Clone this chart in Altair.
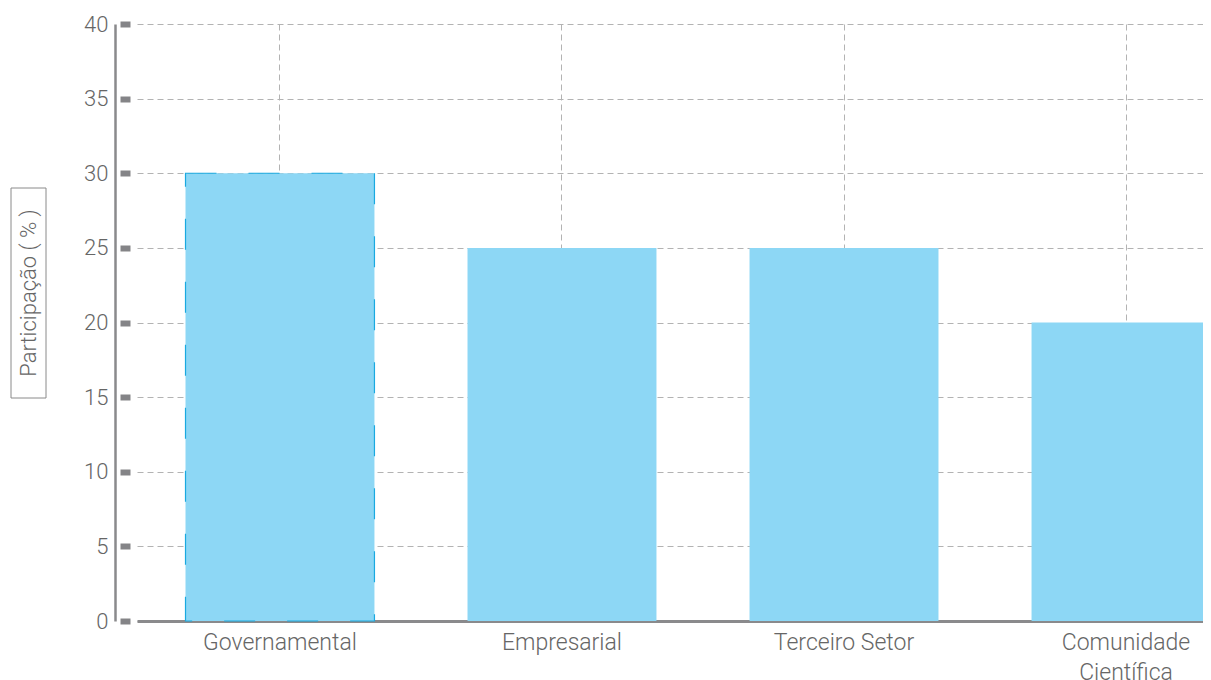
import altair as alt
import pandas as pd

categories = ["Governamental", "Empresarial", "Terceiro Setor", "Comunidade\nCientífica"]
values = [30, 25, 25, 20]
dashed = [True, False, False, False]
y_ticks = [0, 5, 10, 15, 20, 25, 30, 35, 40]
y_title = "Participação ( % )"

df = pd.DataFrame({"categoria": categories, "valor": values, "tracejado": dashed})
title_df = pd.DataFrame({"t": [y_title]})

FONT = "Roboto"
GRID = "#b3b3b3"
AXIS = "#8a8a8c"
TEXT = "#666666"

x_enc = alt.X(
    "categoria:N",
    sort=categories,
    scale=alt.Scale(range=[0, 1132], paddingInner=0.33, paddingOuter=0.172),
    axis=alt.Axis(
        title=None, labelAngle=0, grid=True, gridDash=[6, 4], gridColor=GRID,
        gridWidth=1, bandPosition=0.5, ticks=False, domainColor=AXIS,
        domainWidth=3, labelExpr="split(datum.label, '\\n')",
        labelFont=FONT, labelFontSize=23, labelFontWeight=300, labelColor=TEXT,
        labelPadding=10, labelLineHeight=30,
    ),
)

y_scale = alt.Scale(domain=[0, 40], nice=False)

bars = alt.Chart(df).mark_bar(color="#8dd7f5", strokeDash=[31, 32], strokeWidth=1.2).encode(
    x=x_enc,
    y=alt.Y(
        "valor:Q", scale=y_scale,
        axis=alt.Axis(
            orient="left", values=y_ticks, offset=22, title=None, grid=True,
            gridDash=[6, 4], gridColor=GRID, gridWidth=1, ticks=False,
            domainColor=AXIS, domainWidth=2.5, labelPadding=7,
            labelFont=FONT, labelFontSize=22, labelFontWeight=300, labelColor=TEXT,
        ),
    ),
    stroke=alt.condition("datum.tracejado", alt.value("#1aa9e0"), alt.value("transparent")),
)

ticks = alt.Chart(df).mark_bar(opacity=0).encode(
    x=x_enc,
    y=alt.Y(
        "valor:Q", scale=y_scale,
        axis=alt.Axis(
            orient="left", values=y_ticks, offset=7, title=None, grid=False,
            domain=False, labels=False, ticks=True, tickSize=10, tickWidth=6,
            tickColor="#848487",
        ),
    ),
)

box = alt.Chart(title_df).mark_rect(filled=False, stroke="#8a8a8a", strokeWidth=1).encode(
    x=alt.value(-126), x2=alt.value(-91), y=alt.value(164), y2=alt.value(374)
)

title_text = alt.Chart(title_df).mark_text(
    angle=270, font=FONT, fontSize=22, fontWeight=300, color=TEXT,
    align="center", baseline="middle",
).encode(text="t:N", x=alt.value(-108), y=alt.value(269))

chart = (
    alt.layer(bars, ticks, box, title_text)
    .resolve_axis(y="independent")
    .properties(
        width=1066, height=597,
        autosize=alt.AutoSizeParams(type="none"),
        padding={"left": 129, "top": 16, "right": 0, "bottom": 59},
    )
    .configure_view(stroke=None)
)

chart.save("out.html", embed_options={"renderer": "svg", "actions": False})
